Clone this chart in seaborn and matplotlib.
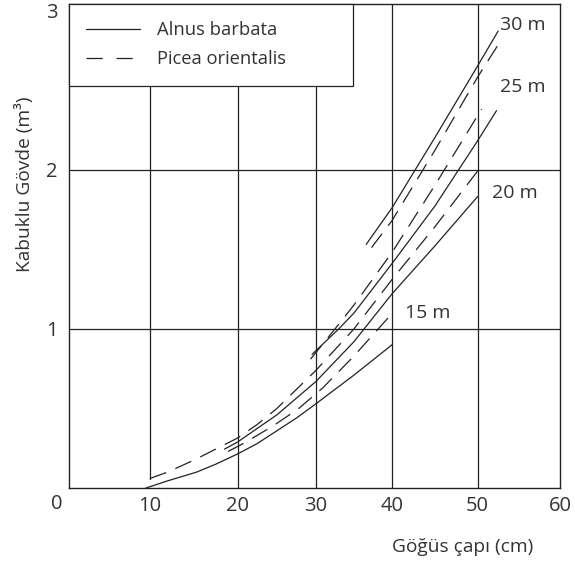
import numpy as np
import pandas as pd
import seaborn as sns
import matplotlib.pyplot as plt
from matplotlib.lines import Line2D

# Alnus barbata (düz çizgi) - okunan değerler
alnus_15_d = [9.5, 12, 15.3, 17.5, 20, 22.5, 25, 27.5, 30, 35, 40]
alnus_15_v = [0.0, 0.045, 0.10, 0.15, 0.215, 0.28, 0.36, 0.44, 0.53, 0.71, 0.90]
alnus_20_d = [18.5, 20, 25, 30, 35, 40, 45, 50]
alnus_20_v = [0.245, 0.29, 0.46, 0.67, 0.92, 1.22, 1.52, 1.83]
alnus_25_d = [29.5, 33, 35, 40, 45, 50, 52.3]
alnus_25_v = [0.84, 1.0, 1.10, 1.41, 1.77, 2.18, 2.37]
alnus_30_d = [36.6, 40, 45, 50, 52.5]
alnus_30_v = [1.53, 1.76, 2.20, 2.65, 2.87]

# Picea orientalis (kesikli çizgi)
picea_15_d = [18.9, 20.9, 24.5, 27.8, 30.9, 35, 39.5]
picea_15_v = [0.23, 0.285, 0.39, 0.50, 0.63, 0.83, 1.07]
picea_20_d = [10, 12, 15, 17.5, 20, 22.5, 25, 27.5, 30, 35, 40, 45, 50]
picea_20_v = [0.06, 0.10, 0.175, 0.245, 0.315, 0.40, 0.50, 0.62, 0.74, 1.0, 1.31, 1.64, 1.99]
picea_25_d = [29.3, 32.5, 35, 40, 45, 50.5]
picea_25_v = [0.81, 1.0, 1.15, 1.48, 1.90, 2.38]
picea_30_d = [37.3, 40, 45, 50, 52.7]
picea_30_v = [1.51, 1.68, 2.12, 2.58, 2.80]

height_labels = ["15 m", "20 m", "25 m", "30 m"]
label_d = [41.5, 51.8, 52.7, 52.7]
label_v = [1.10, 1.85, 2.52, 2.91]

x_ticks = [0, 10, 20, 30, 40, 50, 60]
y_ticks = [1, 2, 3]

# Uzun formatta tablo
curves = [
    ("Alnus barbata", "15", alnus_15_d, alnus_15_v),
    ("Alnus barbata", "20", alnus_20_d, alnus_20_v),
    ("Alnus barbata", "25", alnus_25_d, alnus_25_v),
    ("Alnus barbata", "30", alnus_30_d, alnus_30_v),
    ("Picea orientalis", "15", picea_15_d, picea_15_v),
    ("Picea orientalis", "20", picea_20_d, picea_20_v),
    ("Picea orientalis", "25", picea_25_d, picea_25_v),
    ("Picea orientalis", "30", picea_30_d, picea_30_v),
]
df = pd.concat([
    pd.DataFrame({"d": d, "v": v, "species": sp, "curve": sp + h})
    for sp, h, d, v in curves
])

sns.set_theme(style="white")
plt.rcParams["font.family"] = ["Open Sans", "DejaVu Sans"]
ink = "#222222"
txt = "#333333"

fig, ax = plt.subplots(figsize=(5.75, 5.63), dpi=100)
fig.subplots_adjust(left=0.12, right=0.974, bottom=0.133, top=0.993)

# basılı ızgara eşit aralıklı değil: parçalı doğrusal ölçek
grid_px = [-422, 69, 149.7, 237.7, 316, 392, 477.5, 560, 1051]
grid_x = [-60, 0, 10, 20, 30, 40, 50, 60, 120]
ax.set_xscale("function", functions=(lambda x: np.interp(x, grid_x, grid_px),
                                     lambda p: np.interp(p, grid_px, grid_x)))
ax.set_xlim(0, 60)
ax.set_ylim(0, 3.04)

for x in x_ticks[1:-1]:
    lo = 0.06 / 3.04 if x == 10 else 0
    ax.axvline(x, ymin=lo, color=ink, lw=0.9, zorder=0)
for y in y_ticks[:-1]:
    ax.axhline(y, color=ink, lw=0.9, zorder=0)

sns.lineplot(data=df, x="d", y="v", style="species", units="curve",
             estimator=None, sort=False, color=ink, lw=0.9, legend=False,
             dashes={"Alnus barbata": "", "Picea orientalis": (14, 8)}, ax=ax)

for lab, d, v in zip(height_labels, label_d, label_v):
    ax.text(d, v, lab, ha="left", va="center", fontsize=14, color=txt)

ax.set_xticks(x_ticks[1:])
ax.set_xticklabels([str(t) for t in x_ticks[1:]])
ax.set_yticks(y_ticks)
ax.set_yticklabels([str(t) for t in y_ticks])
ax.tick_params(axis="x", length=0, pad=6, labelsize=14.5, labelcolor=txt)
ax.tick_params(axis="y", length=0, pad=8, labelsize=14.5, labelcolor=txt)
ax.text(-0.0244, -0.0335, "0", transform=ax.transAxes, ha="center", va="center",
        fontsize=14.5, color=txt)

for s in ax.spines.values():
    s.set_color(ink)
    s.set_linewidth(1)

ax.set_xlabel("Göğüs çapı (cm)", fontsize=13.8, color=txt, ha="center", va="center")
ax.xaxis.set_label_coords(0.801, -0.121)
ax.set_ylabel("Kabuklu Gövde (m³)", fontsize=13.8, color=txt, ha="center", va="center")
ax.yaxis.set_label_coords(-0.0906, 0.628)

handles = [Line2D([], [], color=ink, lw=0.9),
           Line2D([], [], color=ink, lw=0.9, dashes=(13, 11))]
leg = ax.legend(handles, ["Alnus barbata", "Picea orientalis"], loc="upper left",
                bbox_to_anchor=(0, 1, 0.578, 0), mode="expand", borderaxespad=0,
                fancybox=False, framealpha=1, edgecolor=ink, fontsize=13.2,
                handlelength=2.9, handletextpad=0.95, borderpad=0.95,
                labelspacing=0.6, labelcolor=txt)
leg.get_frame().set_linewidth(0.9)

plt.savefig("out.png", dpi=100)
